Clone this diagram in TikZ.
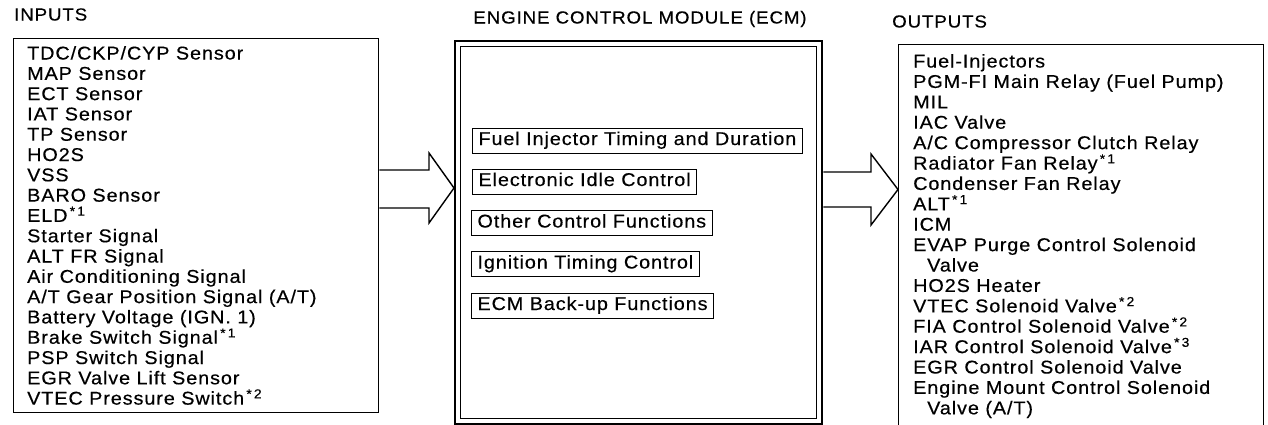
\documentclass[tikz,border=0pt]{standalone}
\usepackage{fontspec}
\setmainfont{Liberation Sans}[FakeStretch=1.07, LetterSpace=5, FakeBold=0.4]
\begin{document}
\begin{tikzpicture}[x=1pt,y=-1pt,
  every node/.style={inner sep=0pt},
  boxline/.style={draw, line width=1.4pt},
  listtext/.style={anchor=base west, font=\fontsize{18.5}{20}\selectfont},
  titletext/.style={anchor=base west, font=\fontsize{17.5}{20}\selectfont},
  funcbox/.style={draw, line width=1.0pt, anchor=west, inner xsep=6pt, minimum height=25pt,
     text height=13pt, text depth=4pt, font=\fontsize{18.5}{20}\selectfont},
  arrowline/.style={line width=1.4pt, line join=miter}]
\useasboundingbox (0,0) rectangle (1268,424);
\fill[white] (0,0) rectangle (1268,424);
% titles
\node[titletext] (tin) at (14,20.5) {INPUTS};
\node[titletext, anchor=base] (tecm) at (640,23.5) {ENGINE CONTROL MODULE (ECM)};
\node[titletext] (tout) at (892,27.5) {OUTPUTS};
% boxes
\node[boxline, anchor=north west, minimum width=365pt, minimum height=374pt] (inbox) at (13,38) {};
\node[draw, line width=2.4pt, anchor=north west, minimum width=367pt, minimum height=383pt] (ecmout) at (454,40) {};
\node[draw, line width=1.1pt, anchor=north west, minimum width=356pt, minimum height=372pt] (ecmin) at (460,46) {};
\node[boxline, anchor=north west, minimum width=365pt, minimum height=390pt] (outbox) at (898,44) {};
% inputs
\foreach \t [count=\i] in {{TDC/CKP/CYP Sensor},{MAP Sensor},{ECT Sensor},{IAT Sensor},{TP Sensor},{HO2S},{VSS},{BARO Sensor},{ELD\textsuperscript{\,*\,1}},{Starter Signal},{ALT FR Signal},{Air Conditioning Signal},{A/T Gear Position Signal (A/T)},{Battery Voltage (IGN. 1)},{Brake Switch Signal\textsuperscript{\,*\,1}},{PSP Switch Signal},{EGR Valve Lift Sensor},{VTEC Pressure Switch\textsuperscript{\,*\,2}}}
  \node[listtext] (in\i) at (27,{59.5+(\i-1)*20.3}) {\t};
% outputs
\foreach \t [count=\i] in {{Fuel-Injectors},{PGM-FI Main Relay (Fuel Pump)},{MIL},{IAC Valve},{A/C Compressor Clutch Relay},{Radiator Fan Relay\textsuperscript{\,*\,1}},{Condenser Fan Relay},{ALT\textsuperscript{\,*\,1}},{ICM},{EVAP Purge Control Solenoid},{\hspace*{14pt}Valve},{HO2S Heater},{VTEC Solenoid Valve\textsuperscript{\,*\,2}},{FIA Control Solenoid Valve\textsuperscript{\,*\,2}},{IAR Control Solenoid Valve\textsuperscript{\,*\,3}},{EGR Control Solenoid Valve},{Engine Mount Control Solenoid},{\hspace*{14pt}Valve (A/T)}}
  \node[listtext] (out\i) at (913,{67.5+(\i-1)*20.4}) {\t};
% function boxes
\node[funcbox] (f1) at (472,140.5) {Fuel Injector Timing and Duration};
\node[funcbox] (f2) at (472,181.5) {Electronic Idle Control};
\node[funcbox] (f3) at (471,223) {Other Control Functions};
\node[funcbox] (f4) at (471,264) {Ignition Timing Control};
\node[funcbox] (f5) at (471,305.5) {ECM Back-up Functions};
% arrows
\coordinate (la1) at (429,170);
\coordinate (la2) at (429,153);
\coordinate (la3) at (429,188);
\coordinate (la4) at (429,223);
\coordinate (la5) at (429,208);
\draw[arrowline] (inbox.east |- la1) -- (la1) -- (la2) -- (ecmout.west |- la3) -- (la4) -- (la5) -- (inbox.east |- la5);
\coordinate (ra1) at (871,172);
\coordinate (ra2) at (871,154);
\coordinate (ra3) at (871,189.5);
\coordinate (ra4) at (871,225);
\coordinate (ra5) at (871,207);
\draw[arrowline] (ecmout.east |- ra1) -- (ra1) -- (ra2) -- (outbox.west |- ra3) -- (ra4) -- (ra5) -- (ecmout.east |- ra5);
\end{tikzpicture}
\end{document}
